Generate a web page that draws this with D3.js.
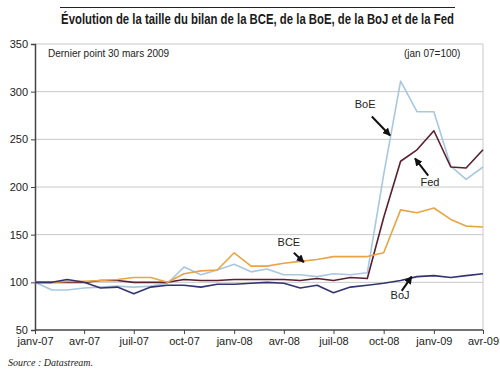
<!DOCTYPE html>
<html>
<head>
<meta charset="utf-8">
<script src="https://cdn.jsdelivr.net/npm/d3@7"></script>
<style>
  body { margin: 0; background: #fff; }
  svg { display: block; font-family: "Liberation Sans", Arial, sans-serif; }
</style>
</head>
<body>
<div id="chart"></div>
<script>
// Monthly points, janv-07 .. avr-09 (index jan 07 = 100)
const months = d3.range(28).map(i => new Date(2007, i, 1));

const bce = [100, 100, 101, 101, 102, 103, 105, 105, 100, 109, 112, 113, 131, 117,
             117, 120, 122, 124, 127, 127, 127, 131, 176, 173, 178, 166, 159, 158];
const boe = [100, 92, 92, 94, 95, 96, 95, 96, 99, 116, 108, 113, 119, 111,
             114, 108, 108, 106, 109, 108, 110, 213, 311, 279, 279, 222, 208, 221];
const boj = [100, 100, 103, 100, 94, 95, 88, 95, 97, 97, 95, 98, 98, 99,
             100, 99, 94, 97, 89, 95, 97, 99, 102, 106, 107, 105, 107, 109];
const fed = [100, 100, 100, 100, 102, 102, 100, 100, 100, 103, 102, 102, 103, 103,
             103, 103, 102, 104, 102, 105, 104, 168, 227, 239, 259, 221, 220, 239];

const seriesNames = ["BoE", "Fed", "BCE", "BoJ"];
const seriesColors = ["#a9c7df", "#5c1f2f", "#e9a445", "#33346f"];

const yTicks = [50, 100, 150, 200, 250, 300, 350];
const xTickLabels = ["janv-07", "avr-07", "juil-07", "oct-07", "janv-08",
                     "avr-08", "juil-08", "oct-08", "janv-09", "avr-09"];
const xTickDates = xTickLabels.map((_, i) => new Date(2007, i * 3, 1));

// label text position and arrow [from, to] in data space (month index, value)
const annotations = [
  { text: "BoE", pos: [19.9, 283], from: [20.3, 274], to: [21.4, 254] },
  { text: "Fed", pos: [23.8, 201], from: [23.7, 212], to: [22.9, 230] },
  { text: "BCE", pos: [15.3, 138], from: [15.6, 131], to: [16.2, 121] },
  { text: "BoJ", pos: [22.0, 82], from: [22.1, 91], to: [22.7, 106] }
];

const width = 500, height = 375;
const margin = { top: 44, right: 17, bottom: 45, left: 35 };

const svg = d3.select("#chart").append("svg")
  .attr("width", width).attr("height", height);

const x = d3.scaleTime()
  .domain([months[0], months[months.length - 1]])
  .range([margin.left, width - margin.right]);
const y = d3.scaleLinear()
  .domain([50, 350])
  .range([height - margin.bottom, margin.top]);

// title: condensed bold, squeezed horizontally to fit the rule above it
svg.append("line")
  .attr("x1", 60).attr("x2", 455).attr("y1", 7.5).attr("y2", 7.5)
  .attr("stroke", "#222").attr("stroke-width", 1);
const titleG = svg.append("g");
const title = titleG.append("text")
  .attr("x", 0).attr("y", 0)
  .attr("text-anchor", "middle")
  .style("font-family", "'Liberation Sans Narrow', 'Liberation Sans', sans-serif")
  .style("font-weight", "bold").style("font-size", "15.5px").attr("fill", "#1a1a1a")
  .text("Évolution de la taille du bilan de la BCE, de la BoE, de la BoJ et de la Fed");
const tw = title.node().getComputedTextLength();
const sx = Math.min(1, 393 / tw);
titleG.attr("transform", `translate(257.5,24) scale(${sx},1)`);

// grid
svg.append("g").selectAll("line")
  .data(yTicks.slice(1))
  .join("line")
  .attr("x1", margin.left).attr("x2", width - margin.right)
  .attr("y1", d => y(d)).attr("y2", d => y(d))
  .attr("stroke", "#c8c8c8").attr("stroke-width", 1);
svg.append("line")
  .attr("x1", width - margin.right).attr("x2", width - margin.right)
  .attr("y1", y(350)).attr("y2", y(50))
  .attr("stroke", "#c8c8c8");

// axes
const yAxis = svg.append("g")
  .attr("transform", `translate(${margin.left},0)`)
  .call(d3.axisLeft(y).tickValues(yTicks).tickSize(4).tickPadding(3));
const xAxis = svg.append("g")
  .attr("transform", `translate(0,${y(50)})`)
  .call(d3.axisBottom(x).tickValues(xTickDates).tickSize(4).tickPadding(3)
    .tickFormat((d, i) => xTickLabels[i]));
[yAxis, xAxis].forEach(a => {
  a.select(".domain").attr("stroke", "#444").attr("stroke-width", 1.5);
  a.selectAll(".tick line").attr("stroke", "#444");
  a.selectAll("text").attr("fill", "#222").style("font-size", "11px")
    .style("font-family", "'Liberation Sans', Arial, sans-serif");
});
xAxis.select(".domain").attr("d", `M${margin.left},0H${width - margin.right}`);

// lines
const allSeries = [boe, fed, bce, boj];
const line = d3.line().x((d, i) => x(months[i])).y(d => y(d));
svg.append("g").attr("fill", "none")
  .selectAll("path")
  .data(allSeries)
  .join("path")
  .attr("stroke", (d, i) => seriesColors[i])
  .attr("stroke-width", 1.6)
  .attr("stroke-linejoin", "round")
  .attr("d", line);

// notes
svg.append("text").attr("x", 48).attr("y", 57)
  .style("font-size", "10px").attr("fill", "#222")
  .text("Dernier point 30 mars 2009");
svg.append("text").attr("x", 404).attr("y", 57)
  .style("font-size", "10px").attr("fill", "#222")
  .text("(jan 07=100)");

// annotation arrows
svg.append("defs").append("marker")
  .attr("id", "arrow").attr("viewBox", "0 0 10 10")
  .attr("refX", 9).attr("refY", 5)
  .attr("markerWidth", 4).attr("markerHeight", 4)
  .attr("orient", "auto")
  .append("path").attr("d", "M0,0L10,5L0,10z").attr("fill", "#111");

const mx = i => x(months[0]) + (x(months[27]) - x(months[0])) * i / 27;
const ann = svg.append("g");
annotations.forEach(a => {
  ann.append("line")
    .attr("x1", mx(a.from[0])).attr("y1", y(a.from[1]))
    .attr("x2", mx(a.to[0])).attr("y2", y(a.to[1]))
    .attr("stroke", "#111").attr("stroke-width", 2)
    .attr("marker-end", "url(#arrow)");
  ann.append("text")
    .attr("x", mx(a.pos[0])).attr("y", y(a.pos[1]))
    .attr("text-anchor", "middle")
    .style("font-size", "11px").attr("fill", "#222")
    .text(a.text);
});

// source
svg.append("text").attr("x", 8).attr("y", 366)
  .style("font-family", "'Liberation Serif', 'Times New Roman', serif")
  .style("font-style", "italic").style("font-size", "10px").attr("fill", "#222")
  .text("Source : Datastream.");
</script>
</body>
</html>
